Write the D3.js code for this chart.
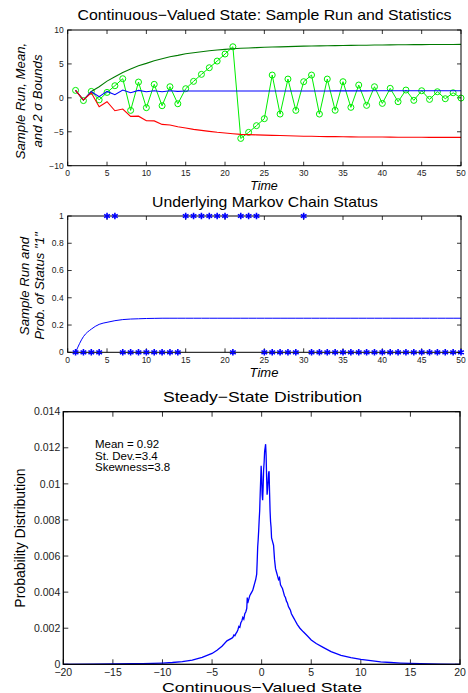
<!DOCTYPE html>
<html><head><meta charset="utf-8">
<script src="https://cdn.jsdelivr.net/npm/d3@7/dist/d3.min.js"></script>
<style>
body{margin:0;background:#fff;}
text{font-family:"Liberation Sans",Arial,Helvetica,sans-serif;}
</style></head>
<body><svg id="c" width="468" height="693"></svg>
<script>
// ---------- DATA ----------
const time = [1,2,3,4,5,6,7,8,9,10,11,12,13,14,15,16,17,18,19,20,21,22,23,24,25,26,27,28,29,30,31,32,33,34,35,36,37,38,39,40,41,42,43,44,45,46,47,48,49,50];
const sampleRun = [1.1,-0.4,0.95,-0.3,0.8,1.79,2.82,-1.85,2.33,-1.45,1.99,-1.16,1.64,-0.87,1.35,2.43,3.46,4.44,5.42,6.46,7.53,-5.98,-5.09,-4.1,-3.07,3.36,-2.39,2.77,-1.85,2.38,3.36,-2.39,2.77,-1.83,2.38,-1.4,1.89,-1.11,1.64,-0.82,1.4,-0.57,1.15,-0.37,1.05,-0.23,0.9,-0.13,0.75,-0.03];
const runMean = [1.1,-0.32,0.9,0.17,0.95,0.46,1.15,0.75,1.1,0.9,1.05,0.9,1.05,0.95,1.0,1.0,1.0,1.0,1.0,1.0,1.0,1.0,1.0,1.0,1.0,1.0,1.0,1.0,1.02,1.02,1.02,1.02,1.02,1.03,1.03,1.03,1.03,1.03,1.04,1.04,1.04,1.04,1.04,1.05,1.05,1.05,1.05,1.05,1.05,1.05];
const upperBound = [1.1,-0.32,0.95,1.64,2.47,3.11,3.75,4.24,4.73,5.08,5.47,5.77,6.06,6.26,6.5,6.65,6.8,6.94,7.05,7.15,7.24,7.3,7.35,7.4,7.45,7.49,7.52,7.55,7.58,7.62,7.64,7.66,7.68,7.7,7.72,7.73,7.75,7.76,7.78,7.8,7.81,7.82,7.83,7.84,7.85,7.86,7.86,7.87,7.87,7.88];
const lowerBound = [1.1,-0.32,0.75,-1.3,-0.57,-1.9,-1.65,-2.73,-2.7,-3.37,-3.4,-3.91,-4.0,-4.26,-4.45,-4.65,-4.8,-4.94,-5.08,-5.18,-5.28,-5.38,-5.42,-5.46,-5.5,-5.53,-5.56,-5.59,-5.62,-5.65,-5.67,-5.69,-5.71,-5.72,-5.73,-5.75,-5.76,-5.77,-5.78,-5.78,-5.79,-5.8,-5.8,-5.81,-5.81,-5.82,-5.82,-5.83,-5.83,-5.83];

const chainStatus = [0,0,0,0,1,1,0,0,0,0,0,0,0,0,1,1,1,1,1,1,0,1,1,1,0,0,0,0,0,1,0,0,0,0,0,0,0,0,0,0,0,0,0,0,0,0,0,0,0,0];
const probStatusOne = [0,0.115,0.17,0.205,0.22,0.232,0.24,0.244,0.246,0.248,0.249,0.25,0.25,0.25,0.25,0.25,0.25,0.25,0.25,0.25,0.25,0.25,0.25,0.25,0.25,0.25,0.25,0.25,0.25,0.25,0.25,0.25,0.25,0.25,0.25,0.25,0.25,0.25,0.25,0.25,0.25,0.25,0.25,0.25,0.25,0.25,0.25,0.25,0.25,0.25];

const stateX = [-20,-17,-15,-13,-12,-11,-10,-9,-8,-7,-6,-5,-4.5,-4,-3.5,-3.0,-2.9,-2.8,-2.7,-2.6,-2.5,-2.4,-2.3,-2.2,-2.1,-2.0,-1.9,-1.8,-1.7,-1.6,-1.5,-1.45,-1.4,-1.3,-1.2,-1.1,-1.0,-0.9,-0.8,-0.7,-0.6,-0.5,-0.45,-0.4,-0.35,-0.3,-0.25,-0.2,-0.15,-0.1,-0.05,0.0,0.05,0.1,0.15,0.2,0.25,0.3,0.35,0.4,0.45,0.5,0.55,0.6,0.65,0.7,0.75,0.8,0.85,0.9,0.95,1.0,1.1,1.2,1.3,1.4,1.5,1.6,1.7,1.8,1.9,2.0,2.1,2.2,2.3,2.4,2.5,2.6,2.7,2.8,2.9,3.0,3.2,3.4,3.6,3.86,4.2,4.6,5.0,5.5,6.2,7.0,8.0,9.0,10.0,11.0,12.0,13.0,14.0,15.0,16.0,18.0,20.0];
const stateProb = [0,0.00001,0.00002,0.00003,0.00004,0.00005,0.00007,0.0001,0.00015,0.00023,0.00038,0.0006,0.00078,0.001,0.0013,0.00145,0.0015,0.00162,0.00158,0.0017,0.00178,0.0019,0.0021,0.00205,0.0023,0.0024,0.0026,0.0025,0.0028,0.0029,0.0031,0.0037,0.0034,0.0036,0.0038,0.0039,0.0040,0.0041,0.0043,0.0045,0.0047,0.0050,0.0057,0.0065,0.0069,0.0074,0.0080,0.0085,0.0094,0.0102,0.0110,0.0104,0.0094,0.0091,0.0098,0.0108,0.0112,0.0118,0.0120,0.0122,0.0116,0.0104,0.0094,0.0097,0.0101,0.0106,0.0107,0.0095,0.0085,0.0079,0.0076,0.0070,0.0068,0.0066,0.0058,0.0053,0.0051,0.0049,0.0047,0.0048,0.0044,0.0043,0.0042,0.0040,0.0038,0.0037,0.0035,0.0034,0.0032,0.0031,0.0030,0.0028,0.0026,0.0024,0.0022,0.0020,0.0018,0.00158,0.00135,0.00115,0.00094,0.0007,0.0005,0.00037,0.00027,0.0002,0.00014,0.0001,0.00007,0.00005,0.00003,0.00001,0];

const topYTicks = [-10,-5,0,5,10];
const timeTicks = [0,5,10,15,20,25,30,35,40,45,50];
const midYTicks = [0,0.2,0.4,0.6,0.8,1];
const midYTickLabels = ["0","0.2","0.4","0.6","0.8","1"];
const botXTicks = [-20,-15,-10,-5,0,5,10,15,20];
const botYTicks = [0,0.002,0.004,0.006,0.008,0.01,0.012,0.014];
const botYTickLabels = ["0","0.002","0.004","0.006","0.008","0.01","0.012","0.014"];
const statsLines = ["Mean = 0.92","St. Dev.=3.4","Skewness=3.8"];

// ---------- DRAW ----------
const svg = d3.select("#c");
const fmt = d => String(d).replace("-", "\u2212");

function boxAxes(g, x, y, xt, yt, xl, yl, fs, tickLen, xlabOff, ylabGap) {
  const [x0, x1] = x.range(), [y0, y1] = y.range();
  const tg = g.append("g").attr("stroke", "#000").attr("stroke-width", 0.8);
  xt.forEach(t => {
    const px = x(t);
    tg.append("line").attr("x1", px).attr("x2", px).attr("y1", y0).attr("y2", y0 - tickLen);
    tg.append("line").attr("x1", px).attr("x2", px).attr("y1", y1).attr("y2", y1 + tickLen);
  });
  yt.forEach(t => {
    const py = y(t);
    tg.append("line").attr("x1", x0).attr("x2", x0 + tickLen).attr("y1", py).attr("y2", py);
    tg.append("line").attr("x1", x1).attr("x2", x1 - tickLen).attr("y1", py).attr("y2", py);
  });
  xt.forEach((t, i) => g.append("text").attr("x", x(t)).attr("y", y0 + xlabOff)
    .attr("text-anchor", "middle").attr("font-size", fs).attr("fill", "#222").text(xl[i]));
  yt.forEach((t, i) => g.append("text").attr("x", x0 - ylabGap).attr("y", y(t)).attr("dy", "0.35em")
    .attr("text-anchor", "end").attr("font-size", fs).attr("fill", "#222").text(yl[i]));
}
function frame(g, x, y, sw) {
  const [x0, x1] = x.range(), [y0, y1] = y.range();
  g.append("rect").attr("x", x0).attr("y", y1).attr("width", x1 - x0).attr("height", y0 - y1)
    .attr("fill", "none").attr("stroke", "#000").attr("stroke-width", sw);
}
function label(x, y, txt, size, opts = {}) {
  const t = svg.append("text").attr("text-anchor", "middle").attr("font-size", size).text(txt);
  if (opts.rotate) t.attr("transform", `translate(${x},${y}) rotate(-90)`);
  else t.attr("x", x).attr("y", y);
  if (opts.italic) t.attr("font-style", "italic");
  if (opts.len) t.attr("textLength", opts.len).attr("lengthAdjust", "spacingAndGlyphs");
  return t;
}

// ---- Top chart ----
{
  const g = svg.append("g");
  const x = d3.scaleLinear().domain([0, 50]).range([67.7, 461]);
  const y = d3.scaleLinear().domain([-10, 10]).range([165.7, 30]);
  boxAxes(g, x, y, timeTicks, topYTicks, timeTicks.map(fmt), topYTicks.map(fmt), 8.5, 4, 10.5, 4);
  const line = arr => d3.line().x((d, i) => x(time[i])).y(d => y(d))(arr);
  g.append("path").attr("d", line(sampleRun)).attr("fill", "none").attr("stroke", "#00ee00").attr("stroke-width", 1);
  g.selectAll("circle.s").data(sampleRun).join("circle").attr("class", "s")
    .attr("cx", (d, i) => x(time[i])).attr("cy", d => y(d)).attr("r", 3)
    .attr("fill", "none").attr("stroke", "#00ee00").attr("stroke-width", 1);
  g.append("path").attr("d", line(upperBound)).attr("fill", "none").attr("stroke", "#007a00").attr("stroke-width", 1.1);
  g.append("path").attr("d", line(runMean)).attr("fill", "none").attr("stroke", "#0000ff").attr("stroke-width", 1.1);
  g.append("path").attr("d", line(lowerBound)).attr("fill", "none").attr("stroke", "#ff0000").attr("stroke-width", 1.1);
  frame(g, x, y, 1);
  label(264.5, 20, "Continuous\u2212Valued State: Sample Run and Statistics", 14.8, {len: 374});
  label(264, 189.5, "Time", 12.5, {italic: true});
  label(25, 101, "Sample Run, Mean,", 13.2, {rotate: true, italic: true});
  label(42, 101, "and 2 \u03c3 Bounds", 13.2, {rotate: true, italic: true});
}

// ---- Middle chart ----
{
  const g = svg.append("g");
  const x = d3.scaleLinear().domain([0, 50]).range([67.7, 461]);
  const y = d3.scaleLinear().domain([0, 1]).range([352.3, 216]);
  boxAxes(g, x, y, timeTicks, midYTicks, timeTicks.map(fmt), midYTickLabels, 8.5, 4, 10.5, 4);
  g.append("path").attr("d", d3.line().curve(d3.curveMonotoneX).x((d, i) => x(time[i])).y(d => y(d))(probStatusOne))
    .attr("fill", "none").attr("stroke", "#0000ff").attr("stroke-width", 1);
  frame(g, x, y, 1);
  const sym = d3.symbol(d3.symbolAsterisk, 30);
  g.selectAll("path.st").data(chainStatus).join("path").attr("class", "st")
    .attr("transform", (d, i) => `translate(${x(time[i])},${y(d)})`)
    .attr("d", sym).attr("fill", "none").attr("stroke", "#0000ff").attr("stroke-width", 1.6);
  label(265, 206.5, "Underlying Markov Chain Status", 14.8, {len: 226});
  label(264, 377, "Time", 13, {italic: true});
  label(29, 286, "Sample Run and", 13.2, {rotate: true, italic: true});
  label(44, 286, "Prob. of Status \"1\"", 13.2, {rotate: true, italic: true});
}

// ---- Bottom chart ----
{
  const g = svg.append("g");
  const x = d3.scaleLinear().domain([-20, 20]).range([63.3, 460]);
  const y = d3.scaleLinear().domain([0, 0.014]).range([664.3, 411.7]);
  boxAxes(g, x, y, botXTicks, botYTicks, botXTicks.map(fmt), botYTickLabels, 10.5, 5, 12, 3);
  g.append("path").attr("d", d3.line().x((d, i) => x(stateX[i])).y(d => y(d))(stateProb))
    .attr("fill", "none").attr("stroke", "#0000ff").attr("stroke-width", 1.3);
  frame(g, x, y, 1.3);
  statsLines.forEach((t, i) => g.append("text").attr("x", 95).attr("y", 448 + i * 11.5)
    .attr("font-size", 11.5).text(t));
  label(262.5, 402, "Steady\u2212State Distribution", 14.8, {len: 199});
  label(262, 691.5, "Continuous\u2212Valued State", 13.5, {len: 200});
  label(25, 538, "Probability Distribution", 14, {rotate: true});
}
</script></body></html>
